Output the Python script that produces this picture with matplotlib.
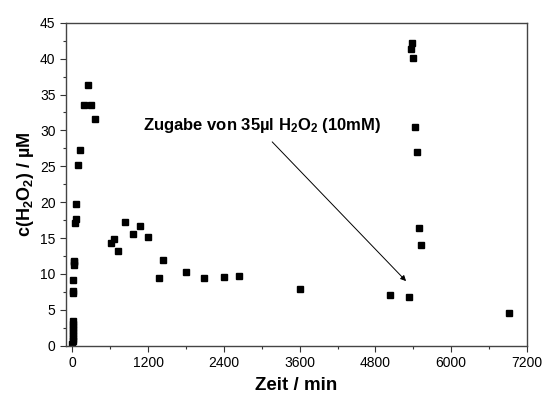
import matplotlib
matplotlib.use("Agg")
import matplotlib.pyplot as plt
from matplotlib.ticker import MultipleLocator

plt.rcParams['font.family'] = ['Liberation Sans', 'DejaVu Sans']
plt.rcParams['mathtext.fontset'] = 'custom'
plt.rcParams['mathtext.rm'] = 'Liberation Sans:bold'
plt.rcParams['mathtext.bf'] = 'Liberation Sans:bold'
plt.rcParams['mathtext.it'] = 'Liberation Sans:bold'
plt.rcParams['mathtext.default'] = 'bf'

time_min = [2, 4, 6, 8, 10, 12, 14, 16, 18, 11, 14, 16, 20, 27, 30,
            43, 52, 58, 90, 122, 179, 242, 301, 359,
            612, 660, 717, 839, 960, 1076, 1198, 1377, 1440,
            1799, 2093, 2394, 2638, 3607, 5032, 5332,
            5369, 5385, 5400, 5427, 5454, 5486, 5517, 6919]
conc_uM = [0.3, 0.6, 1.0, 1.4, 1.8, 2.2, 2.6, 3.0, 3.5, 7.4, 7.6, 9.2, 11.2, 11.6, 11.8,
           17.1, 17.6, 19.7, 25.2, 27.3, 33.5, 36.3, 33.5, 31.6,
           14.3, 14.9, 13.2, 17.2, 15.5, 16.7, 15.1, 9.5, 11.9,
           10.3, 9.5, 9.6, 9.7, 7.85, 7.05, 6.8,
           41.3, 42.2, 40.1, 30.5, 27.0, 16.4, 14.0, 4.5]

x_ticks = [0, 1200, 2400, 3600, 4800, 6000, 7200]
y_ticks = [0, 5, 10, 15, 20, 25, 30, 35, 40, 45]

fig = plt.figure(figsize=(5.42, 3.99), dpi=100)
ax = fig.add_axes([0.1218, 0.1336, 0.8505, 0.8094])

ax.plot(time_min, conc_uM, linestyle='none', marker='s', markersize=5,
        color='black')

ax.set_xlim(-100, 7200)
ax.set_ylim(0, 45)
ax.set_xticks(x_ticks)
ax.set_yticks(y_ticks)
ax.xaxis.set_minor_locator(MultipleLocator(600))
ax.yaxis.set_minor_locator(MultipleLocator(2.5))
ax.tick_params(which='both', direction='out', top=False, right=False,
               labelsize=10, width=0.8, color='#333333')
ax.tick_params(which='major', length=4)
ax.tick_params(which='minor', length=2.5)
for s in ax.spines.values():
    s.set_linewidth(1.0)
    s.set_color('#444444')

ax.set_xlabel('Zeit / min', fontsize=13.5, fontweight='bold', labelpad=5)
ax.set_ylabel('c(H$_2$O$_2$) / µM', fontsize=13,
              fontweight='bold', labelpad=3)

ax.text(1120, 30.7, 'Zugabe von 35µl H$_2$O$_2$ (10mM)',
        fontsize=12, fontweight='bold', va='center', ha='left')
ax.annotate('', xy=(5285, 9.0), xytext=(3165, 28.4),
            arrowprops=dict(arrowstyle='-|>', color='black', lw=0.7,
                            mutation_scale=8, shrinkA=0, shrinkB=0))

fig.savefig('out.png', dpi=100)
